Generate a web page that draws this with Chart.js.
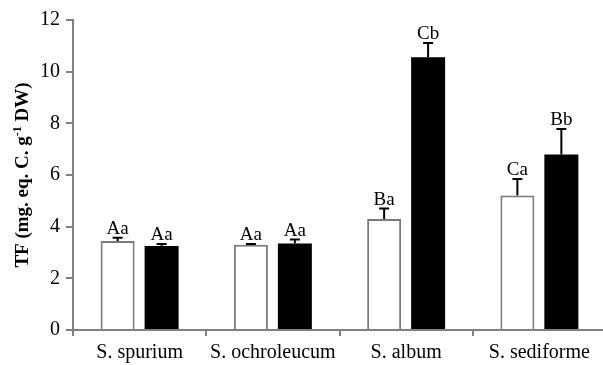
<!DOCTYPE html>
<html>
<head>
<meta charset="utf-8">
<script src="https://cdn.jsdelivr.net/npm/chart.js@4.4.0/dist/chart.umd.min.js"></script>
<style>
html,body{margin:0;padding:0;background:#fff;overflow:hidden;width:603px;height:365px;}
canvas{display:block;}
</style>
</head>
<body>
<canvas id="c" width="606" height="365" style="width:606px;height:365px"></canvas>
<script>
const categories = ["S. spurium", "S. ochroleucum", "S. album", "S. sediforme"];
const whiteValues = [3.45, 3.30, 4.30, 5.21];
const whiteErrors = [0.12, 0.03, 0.40, 0.64];
const whiteLetters = ["Aa", "Aa", "Ba", "Ca"];
const blackValues = [3.25, 3.35, 10.56, 6.79];
const blackErrors = [0.08, 0.15, 0.55, 0.99];
const blackLetters = ["Aa", "Aa", "Cb", "Bb"];
const yTicks = [0, 2, 4, 6, 8, 10, 12];

const FONT = "'Liberation Serif', 'Times New Roman', serif";

const errorBarPlugin = {
  id: 'errorBars',
  afterDatasetsDraw(chart) {
    const ctx = chart.ctx;
    const y = chart.scales.y;
    chart.data.datasets.forEach((ds, di) => {
      const meta = chart.getDatasetMeta(di);
      meta.data.forEach((bar, i) => {
        const v = ds.data[i];
        const e = ds.errors[i];
        const yTop = y.getPixelForValue(v);
        const yErr = y.getPixelForValue(v + e);
        ctx.save();
        ctx.strokeStyle = '#000';
        ctx.lineWidth = 2;
        ctx.beginPath();
        ctx.moveTo(bar.x, yTop);
        ctx.lineTo(bar.x, yErr);
        ctx.moveTo(bar.x - 5, yErr);
        ctx.lineTo(bar.x + 5, yErr);
        ctx.stroke();
        ctx.fillStyle = '#000';
        ctx.font = "19px " + FONT;
        ctx.textAlign = 'center';
        ctx.textBaseline = 'alphabetic';
        ctx.fillText(ds.letters[i], bar.x, yErr - 4);
        ctx.restore();
      });
    });
  }
};

const titlePlugin = {
  id: 'yTitle',
  afterDraw(chart) {
    const ctx = chart.ctx;
    const a = chart.chartArea;
    const cy = (a.top + a.bottom) / 2;
    ctx.save();
    ctx.translate(28, cy);
    ctx.rotate(-Math.PI / 2);
    ctx.fillStyle = '#000';
    ctx.textBaseline = 'alphabetic';
    const big = "bold 19px " + FONT;
    const small = "bold 12px " + FONT;
    const parts = [["TF (mg. eq. C. g", big, 0], ["-1", small, -7], [" DW)", big, 0]];
    let total = 0;
    parts.forEach(p => { ctx.font = p[1]; total += ctx.measureText(p[0]).width; });
    let x = -total / 2;
    parts.forEach(p => {
      ctx.font = p[1];
      ctx.textAlign = 'left';
      ctx.fillText(p[0], x, p[2]);
      x += ctx.measureText(p[0]).width;
    });
    ctx.restore();
  }
};

new Chart(document.getElementById('c'), {
  type: 'bar',
  data: {
    labels: categories,
    datasets: [
      { data: whiteValues, errors: whiteErrors, letters: whiteLetters,
        backgroundColor: '#ffffff', borderColor: '#7a7a7a', borderWidth: 2, borderSkipped: 'bottom' },
      { data: blackValues, errors: blackErrors, letters: blackLetters,
        backgroundColor: '#000000', borderColor: '#000000', borderWidth: 0 }
    ]
  },
  options: {
    responsive: false,
    animation: false,
    devicePixelRatio: 1,
    layout: { padding: { top: 20, right: 0, left: 0, bottom: 0 } },
    plugins: { legend: { display: false }, tooltip: { enabled: false } },
    datasets: { bar: { categoryPercentage: 0.66, barPercentage: 0.773 } },
    scales: {
      x: {
        offset: true,
        border: { display: true, color: '#808080', width: 2 },
        grid: { display: true, drawOnChartArea: false, drawTicks: true, tickLength: 6, offset: true, color: '#808080', lineWidth: 2 },
        ticks: { color: '#000', font: { family: FONT, size: 20 }, padding: 5, maxRotation: 0, autoSkip: false },
        afterFit(s) { s.height = 35; }
      },
      y: {
        min: 0, max: 12,
        border: { display: true, color: '#808080', width: 2 },
        grid: { display: true, drawOnChartArea: false, drawTicks: true, tickLength: 7, color: '#808080', lineWidth: 2 },
        afterBuildTicks(s) { s.ticks = yTicks.map(v => ({ value: v })); },
        ticks: { color: '#000', font: { family: FONT, size: 20 }, padding: 6 },
        afterFit(s) { s.width = 73; }
      }
    }
  },
  plugins: [errorBarPlugin, titlePlugin]
});
</script>
</body>
</html>
